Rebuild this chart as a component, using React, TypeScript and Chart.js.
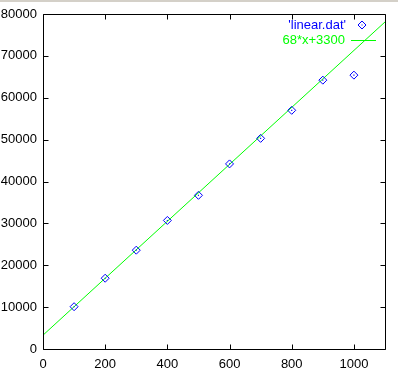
import React, { useEffect, useRef } from "react";
import { Chart, registerables } from "chart.js";

Chart.register(...registerables);

const xValues = [100, 200, 300, 400, 500, 600, 700, 800, 900, 1000];
const yValues = [10100, 16900, 23600, 30700, 36700, 44200, 50300, 57000, 64200, 65400];
const fitSlope = 68;
const fitIntercept = 3300;
const fitRange = [0, 1100];
const xTicks = [0, 200, 400, 600, 800, 1000];
const yTicks = [0, 10000, 20000, 30000, 40000, 50000, 60000, 70000, 80000];
const dataLabel = "'linear.dat'";
const fitLabel = "68*x+3300";

const FONT = '13px "Liberation Sans", Arial, sans-serif';

const framePlugin = {
  id: "frame",
  beforeDraw(chart: any) {
    const ctx = chart.ctx;
    ctx.save();
    ctx.fillStyle = "#ffffff";
    ctx.fillRect(0, 0, chart.width, chart.height);
    ctx.fillStyle = "#d4d0c8";
    ctx.fillRect(0, 0, chart.width, 2);
    ctx.restore();
  },
  afterDraw(chart: any) {
    const ctx = chart.ctx;
    const { left, right, top, bottom } = chart.chartArea;
    const L = Math.round(left) + 0.5;
    const R = Math.round(right) + 0.5;
    const T = Math.round(top) + 0.5;
    const B = Math.round(bottom) + 0.5;
    ctx.save();
    ctx.strokeStyle = "#000000";
    ctx.lineWidth = 1;
    ctx.beginPath();
    ctx.rect(L, T, R - L, B - T);
    const tl = 5;
    const xs = chart.scales.x;
    xs.ticks.forEach((t: any) => {
      const px = Math.round(xs.getPixelForValue(t.value)) + 0.5;
      ctx.moveTo(px, B);
      ctx.lineTo(px, B - tl);
      ctx.moveTo(px, T);
      ctx.lineTo(px, T + tl);
    });
    const ys = chart.scales.y;
    ys.ticks.forEach((t: any) => {
      const py = Math.round(ys.getPixelForValue(t.value)) + 0.5;
      ctx.moveTo(L, py);
      ctx.lineTo(L + tl, py);
      ctx.moveTo(R, py);
      ctx.lineTo(R - tl, py);
    });
    ctx.stroke();

    // key
    ctx.font = FONT;
    ctx.textAlign = "right";
    ctx.textBaseline = "middle";
    ctx.fillStyle = "#0000ff";
    ctx.fillText(dataLabel, 346, 25);
    ctx.strokeStyle = "#0000ff";
    const cx = 362, cy = 25, r = 4;
    ctx.beginPath();
    ctx.moveTo(cx, cy - r);
    ctx.lineTo(cx + r, cy);
    ctx.lineTo(cx, cy + r);
    ctx.lineTo(cx - r, cy);
    ctx.closePath();
    ctx.stroke();
    ctx.fillRect(361.5, 24.5, 1, 1);
    ctx.fillStyle = "#00ff00";
    ctx.fillText(fitLabel, 345, 40);
    ctx.strokeStyle = "#00ff00";
    ctx.beginPath();
    ctx.moveTo(351, 40.5);
    ctx.lineTo(376, 40.5);
    ctx.stroke();
    ctx.restore();
  },
};

export default function App() {
  const ref = useRef<HTMLCanvasElement>(null);
  useEffect(() => {
    document.body.style.margin = "0";
    const pts = xValues.map((x, i) => ({ x, y: yValues[i] }));
    const fit = fitRange.map((x) => ({ x, y: fitSlope * x + fitIntercept }));
    const font = { family: '"Liberation Sans", Arial, sans-serif', size: 13 };
    const chart = new Chart(ref.current as HTMLCanvasElement, {
      type: "scatter",
      data: {
        datasets: [
          {
            label: fitLabel,
            data: fit,
            showLine: true,
            borderColor: "#00ff00",
            borderWidth: 1,
            pointRadius: 0,
            fill: false,
            order: 3,
          } as any,
          {
            label: dataLabel,
            data: pts,
            pointStyle: "rectRot",
            pointRadius: 4,
            pointHoverRadius: 4,
            borderColor: "#0000ff",
            backgroundColor: "rgba(0,0,0,0)",
            borderWidth: 1,
            order: 2,
          },
          {
            label: "dots",
            data: pts,
            pointStyle: "rect",
            pointRadius: 0.8,
            borderWidth: 0,
            backgroundColor: "#0000ff",
            borderColor: "#0000ff",
            order: 1,
          },
        ],
      },
      options: {
        responsive: false,
        animation: false,
        devicePixelRatio: 1,
        layout: { padding: { top: 14, right: 13, left: 0, bottom: 0 } },
        plugins: { legend: { display: false }, tooltip: { enabled: false } },
        events: [],
        scales: {
          x: {
            type: "linear",
            min: 0,
            max: 1100,
            grid: { display: false, drawTicks: false },
            border: { display: false },
            ticks: {
              autoSkip: false,
              maxRotation: 0,
              color: "#000000",
              font,
              padding: 8,
              callback: (v: any) => String(v),
            },
            afterBuildTicks: (s: any) => {
              s.ticks = xTicks.map((v) => ({ value: v }));
            },
            afterFit: (s: any) => {
              s.height = 30;
            },
          },
          y: {
            type: "linear",
            min: 0,
            max: 80000,
            grid: { display: false, drawTicks: false },
            border: { display: false },
            ticks: {
              autoSkip: false,
              color: "#000000",
              font,
              padding: 6,
              callback: (v: any) => String(v),
            },
            afterBuildTicks: (s: any) => {
              s.ticks = yTicks.map((v) => ({ value: v }));
            },
            afterFit: (s: any) => {
              s.width = 43;
            },
          },
        },
      },
      plugins: [framePlugin],
    });
    return () => chart.destroy();
  }, []);
  return <canvas ref={ref} width={398} height={379} style={{ display: "block", width: 398, height: 379 }} />;
}
